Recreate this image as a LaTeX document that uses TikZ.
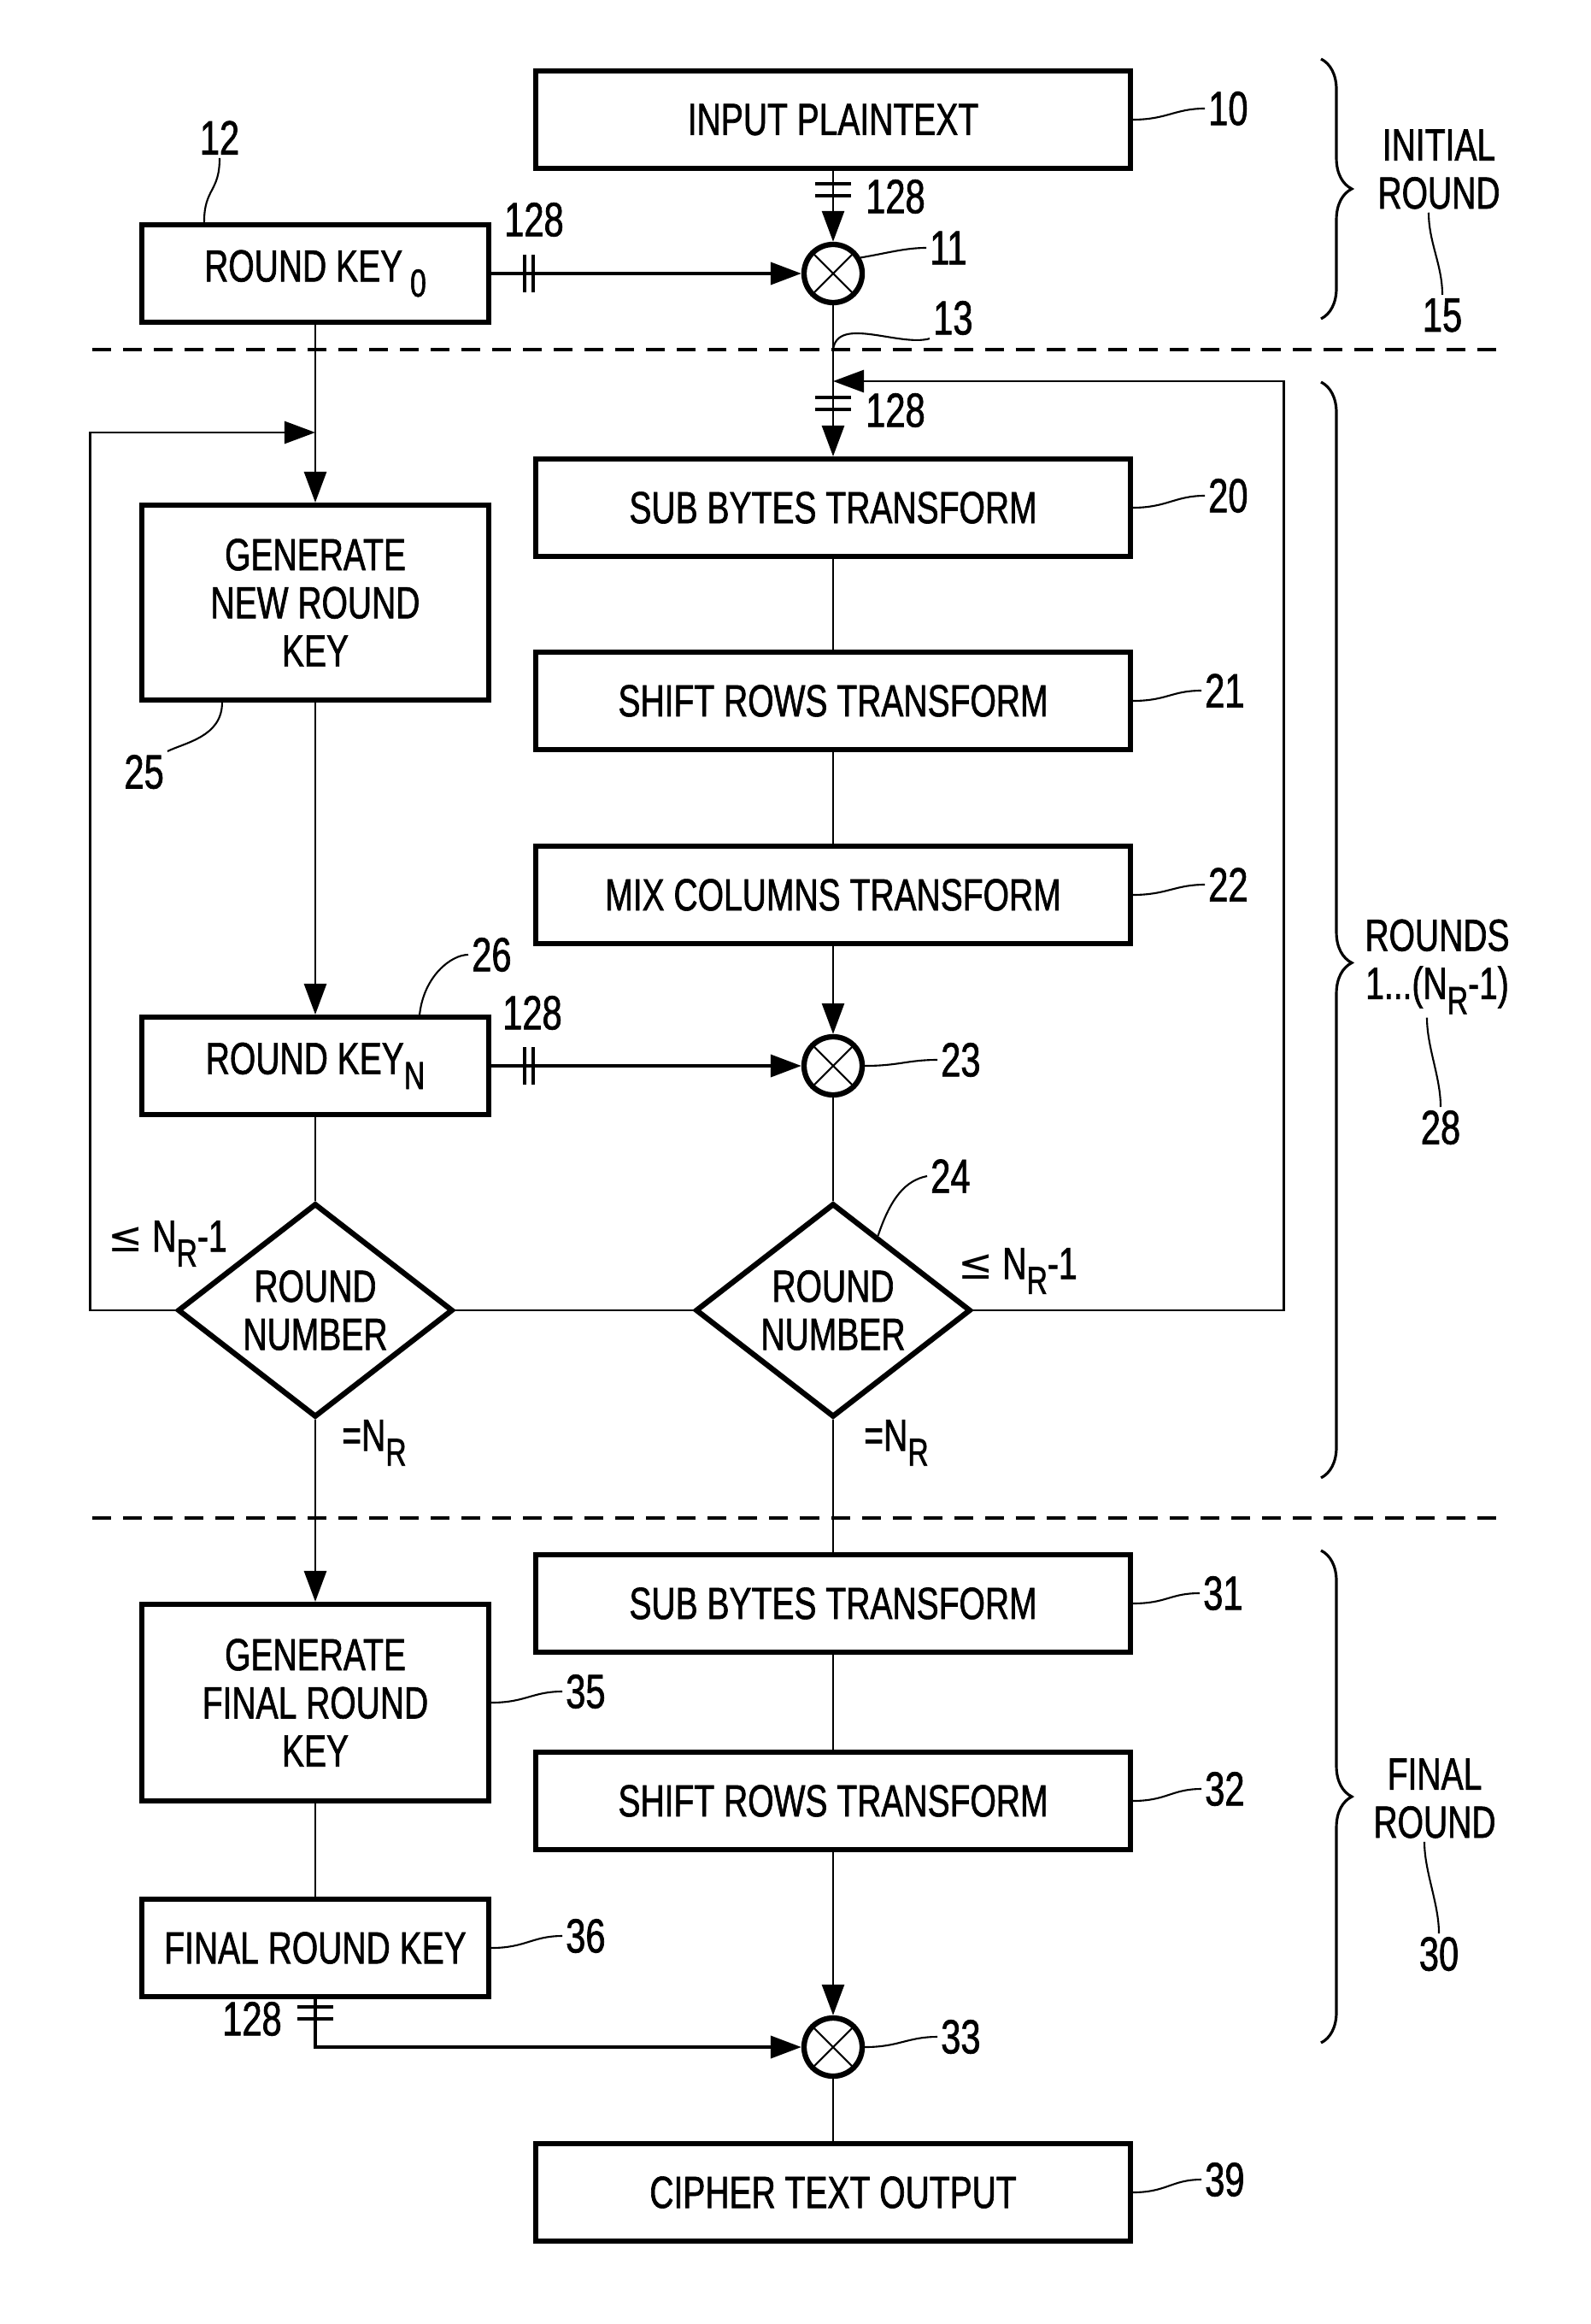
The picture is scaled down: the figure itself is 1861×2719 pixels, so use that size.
\documentclass[tikz,border=0pt]{standalone}
\usepackage{fontspec}
\setmainfont{Liberation Sans}[FakeStretch=0.74, FakeBold=1.2]
\newfontfamily\aesymfont{DejaVu Sans}
\usetikzlibrary{arrows.meta}
\usetikzlibrary{calc}
\usetikzlibrary{decorations.pathreplacing}
\usetikzlibrary{shapes.geometric}
\definecolor{aeink}{HTML}{000000}
\newcommand{\aetext}{\fontsize{15}{16}\selectfont}
\newcommand{\aenumfont}{\fontsize{16}{18}\selectfont}
\newcommand{\aesub}[1]{\raisebox{-5pt}{\fontsize{13}{13}\selectfont #1}}
\newcommand{\aele}{{\aesymfont\fontsize{14}{14}\selectfont ≤}}
\tikzset{
  aebox/.style={
    draw=aeink, line width=1.7pt, minimum width=6.95cm, minimum height=1.14cm,
    inner sep=0pt, align=center, font=\aetext, text=aeink},
  aekey/.style={aebox, minimum width=4.06cm},
  aexor/.style={
    draw=aeink, circle, line width=1.8pt, minimum size=0.68cm, inner sep=0pt},
  aedecide/.style={
    draw=aeink, diamond, aspect=1.29, line width=1.8pt, minimum width=3.22cm,
    minimum height=2.5cm, inner sep=0pt, align=center, font=\aetext},
  aeline/.style={draw=aeink, line width=0.6pt},
  aearrow/.style={-{Triangle[length=0.36cm, width=0.26cm]}, draw=aeink,
    line width=0.8pt},
  aebus/.style={aearrow, line width=1.1pt},
  aetick/.style={draw=aeink, line width=0.9pt},
  aelead/.style={draw=aeink, line width=0.6pt},
  aenum/.style={font=\aenumfont, text=aeink, inner sep=1pt},
  aetag/.style={font=\aetext, text=aeink, inner sep=1pt, align=center},
  aesplit/.style={draw=aeink, dash pattern=on 0.22cm off 0.14cm,
    line width=0.9pt},
  aebrace/.style={draw=aeink, line width=0.9pt, decorate,
    decoration={brace, amplitude=0.36cm}},
}
\begin{document}
\begin{tikzpicture}[x=0.01cm, y=-0.01cm]
\useasboundingbox (0,0) rectangle (1861,2719);

% Initial round.
\node[aebox] (plain) at (975,140) {INPUT PLAINTEXT};
\node[aekey] (rk0) at (369,320) {ROUND KEY\,\aesub{0}};
\node[aexor] (x11) at (975,320) {};
\draw[aelead] (x11.45) -- (x11.225) (x11.135) -- (x11.315);
\draw[aearrow] (plain) -- (x11);
\draw[aebus] (rk0) -- (x11);
\coordinate (t11) at (975,222);
\draw[aetick] (t11) ++(-21,-7) -- ++(42,0) ++(-42,14) -- ++(42,0);
\node[aenum] (b11) at (1048,230) {128};
\coordinate (t12) at (619,320);
\draw[aetick] (t12) ++(-5,-22) -- ++(0,44) ++(10,-44) -- ++(0,44);
\node[aenum] (b12) at (625,257) {128};

% Separators.
\coordinate (cutAw) at (108,409);
\coordinate (cutAe) at (1760,409);
\coordinate (cutBw) at (108,1776);
\coordinate (cutBe) at (1760,1776);
\draw[aesplit] (cutAw) -- (cutAe);
\draw[aesplit] (cutBw) -- (cutBe);

% Rounds 1 to NR-1.
\node[aebox] (sub20) at (975,594) {SUB BYTES TRANSFORM};
\node[aebox] (shift21) at (975,820) {SHIFT ROWS TRANSFORM};
\node[aebox] (mix22) at (975,1047) {MIX COLUMNS TRANSFORM};
\node[aexor] (x23) at (975,1247) {};
\draw[aelead] (x23.45) -- (x23.225) (x23.135) -- (x23.315);
\node[aedecide] (d24) at (975,1533) {ROUND\\NUMBER};
\node[aekey, minimum height=2.28cm] (gen25) at (369,705)
  {GENERATE\\NEW ROUND\\KEY};
\node[aekey] (rk26) at (369,1247) {ROUND KEY\aesub{N}};
\node[aedecide] (dkey) at (369,1533) {ROUND\\NUMBER};

\coordinate (j13) at (975,409);
\coordinate (jr) at (975,446);
\coordinate (t13) at (975,472);
\coordinate (jl) at (369,506);
\draw[aearrow] (x11) -- (sub20);
\draw[aetick] (t13) ++(-21,-7) -- ++(42,0) ++(-42,14) -- ++(42,0);
\node[aenum] (b13) at (1048,480) {128};
\draw[aeline] (sub20) -- (shift21);
\draw[aeline] (shift21) -- (mix22);
\draw[aearrow] (mix22) -- (x23);
\draw[aeline] (x23) -- (d24);
\draw[aearrow] (d24.east) -- ++(363,0) |- (jr);
\draw[aearrow] (rk0) -- (gen25);
\draw[aearrow] (dkey.west) -- ++(-99,0) |- (jl);
\draw[aearrow] (gen25) -- (rk26);
\draw[aebus] (rk26) -- (x23);
\coordinate (t26) at (619,1247);
\draw[aetick] (t26) ++(-5,-22) -- ++(0,44) ++(10,-44) -- ++(0,44);
\node[aenum] (b26) at (623,1185) {128};
\draw[aeline] (rk26) -- (dkey);
\draw[aeline] (dkey.east) -- (d24.west);

\node[aetag, anchor=west] (lekey) at (122,1455) {\aele\ N\aesub{R}-1};
\node[aetag, anchor=west] (le24) at (1117,1487) {\aele\ N\aesub{R}-1};
\node[aetag] (eqkey) at (438,1688) {=N\aesub{R}};
\node[aetag] (eq24) at (1049,1688) {=N\aesub{R}};

% Final round.
\node[aebox] (sub31) at (975,1876) {SUB BYTES TRANSFORM};
\node[aebox] (shift32) at (975,2107) {SHIFT ROWS TRANSFORM};
\node[aexor] (x33) at (975,2395) {};
\draw[aelead] (x33.45) -- (x33.225) (x33.135) -- (x33.315);
\node[aebox] (out39) at (975,2565) {CIPHER TEXT OUTPUT};
\node[aekey, minimum height=2.3cm] (gen35) at (369,1992)
  {GENERATE\\FINAL ROUND\\KEY};
\node[aekey] (rk36) at (369,2279) {FINAL ROUND KEY};

\draw[aeline] (d24) -- (sub31);
\draw[aeline] (sub31) -- (shift32);
\draw[aearrow] (shift32) -- (x33);
\draw[aeline] (x33) -- (out39);
\draw[aearrow] (dkey) -- (gen35);
\draw[aeline] (gen35) -- (rk36);
\draw[aebus] (rk36) |- (x33);
\coordinate (t36) at (369,2355);
\draw[aetick] (t36) ++(-21,-7) -- ++(42,0) ++(-42,14) -- ++(42,0);
\node[aenum] (b36) at (295,2362) {128};

% Round groups.
\draw[aebrace] (1546,69) -- (1546,373);
\draw[aebrace, decoration={aspect=0.53}] (1546,447) -- (1546,1729);
\draw[aebrace] (1546,1814) -- (1546,2390);
\node[aetag] (init15) at (1684,198) {INITIAL\\ROUND};
\node[aetag] (rounds28) at (1682,1131) {ROUNDS\\1...(N\aesub{R}-1)};
\node[aetag] (final30) at (1679,2104) {FINAL\\ROUND};

% Reference numerals.
\node[aenum, anchor=west] (n10) at (1410,127) {10};
\node[aenum, anchor=west] (n11) at (1084,290) {11};
\node[aenum, anchor=south] (n12) at (257,185) {12};
\node[aenum, anchor=west] (n13) at (1088,372) {13};
\node[aenum, anchor=north] (n15) at (1688,345) {15};
\node[aenum, anchor=west] (n20) at (1410,580) {20};
\node[aenum, anchor=west] (n21) at (1406,808) {21};
\node[aenum, anchor=west] (n22) at (1410,1035) {22};
\node[aenum, anchor=west] (n23) at (1097,1240) {23};
\node[aenum, anchor=west] (n24) at (1085,1376) {24};
\node[aenum, anchor=north east] (n25) at (196,879) {25};
\node[aenum, anchor=west] (n26) at (548,1117) {26};
\node[aenum, anchor=north] (n28) at (1686,1295) {28};
\node[aenum, anchor=north] (n30) at (1684,2262) {30};
\node[aenum, anchor=west] (n31) at (1404,1864) {31};
\node[aenum, anchor=west] (n32) at (1406,2093) {32};
\node[aenum, anchor=west] (n33) at (1097,2383) {33};
\node[aenum, anchor=west] (n35) at (658,1979) {35};
\node[aenum, anchor=west] (n36) at (658,2265) {36};
\node[aenum, anchor=west] (n39) at (1406,2550) {39};

\draw[aelead] (plain.east) .. controls +(40,0) and +(-35,0) .. (n10.west);
\draw[aelead] (x11.30) .. controls +(30,-5) and +(-25,0) .. (n11.west);
\draw[aelead] ([xshift=-1.3cm]rk0.north) .. controls +(0,-40)
  and +(0,40) .. (n12.south);
\draw[aelead] (j13) .. controls +(5,-40) and +(-35,10) .. (n13.south west);
\draw[aelead] ([xshift=-0.12cm]init15.south) .. controls +(0,35)
  and +(0,-35) .. (n15.north);
\draw[aelead] (sub20.east) .. controls +(40,0) and +(-35,0) .. (n20.west);
\draw[aelead] (shift21.east) .. controls +(40,0) and +(-35,0) .. (n21.west);
\draw[aelead] (mix22.east) .. controls +(40,0) and +(-35,0) .. (n22.west);
\draw[aelead] (x23.east) .. controls +(40,0) and +(-35,0) .. (n23.west);
\draw[aelead] ($(d24.north)!0.32!(d24.east)$) .. controls +(15,-45)
  and +(-25,5) .. (n24.west);
\draw[aelead] ([xshift=-1.09cm]gen25.south) .. controls +(0,40)
  and +(20,-10) .. (n25.north east);
\draw[aelead] ([xshift=1.22cm]rk26.north) .. controls +(5,-45)
  and +(-20,0) .. (n26.west);
\draw[aelead] ([xshift=-0.12cm]rounds28.south) .. controls +(0,35)
  and +(0,-35) .. (n28.north);
\draw[aelead] ([xshift=-0.12cm]final30.south) .. controls +(0,35)
  and +(0,-35) .. (n30.north);
\draw[aelead] (sub31.east) .. controls +(40,0) and +(-35,0) .. (n31.west);
\draw[aelead] (shift32.east) .. controls +(40,0) and +(-35,0) .. (n32.west);
\draw[aelead] (x33.east) .. controls +(40,0) and +(-35,0) .. (n33.west);
\draw[aelead] (gen35.east) .. controls +(40,0) and +(-35,0) .. (n35.west);
\draw[aelead] (rk36.east) .. controls +(40,0) and +(-35,0) .. (n36.west);
\draw[aelead] (out39.east) .. controls +(40,0) and +(-35,0) .. (n39.west);

\end{tikzpicture}
\end{document}
